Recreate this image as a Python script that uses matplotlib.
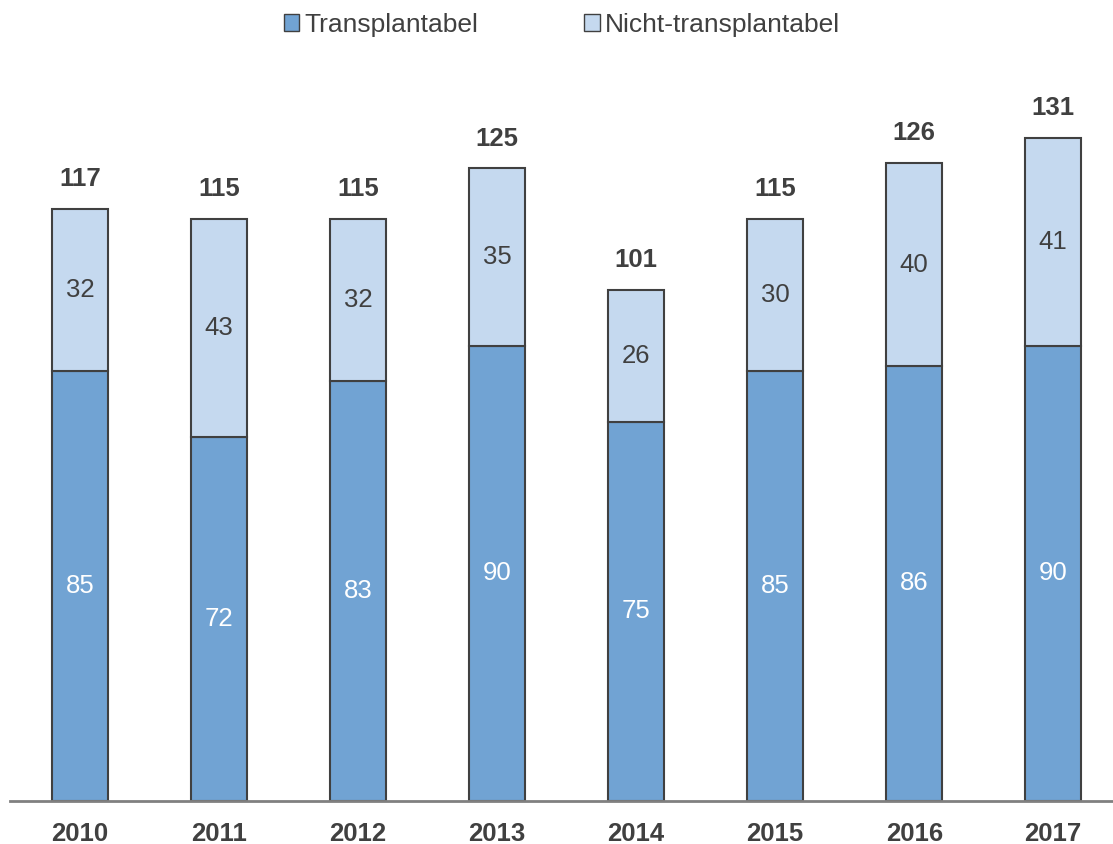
import matplotlib.pyplot as plt
from matplotlib.patches import Patch

plt.rcParams['font.family'] = ['Liberation Sans', 'DejaVu Sans']

years = ["2010", "2011", "2012", "2013", "2014", "2015", "2016", "2017"]
transplantabel = [85, 72, 83, 90, 75, 85, 86, 90]
nicht_transplantabel = [32, 43, 32, 35, 26, 30, 40, 41]
totals = [117, 115, 115, 125, 101, 115, 126, 131]

dark = "#71a3d3"
light = "#c5d9ef"
edge = "#404040"
txt = "#404040"
fs = 18.5

fig = plt.figure(figsize=(11.13, 8.44), dpi=100)
ax = fig.add_axes([10 / 1113, 1 - 801 / 844, 1103 / 1113, 741 / 844])

x = range(len(years))
ax.bar(x, transplantabel, width=0.4, color=dark, edgecolor=edge, linewidth=1.5)
ax.bar(x, nicht_transplantabel, width=0.4, bottom=transplantabel,
       color=light, edgecolor=edge, linewidth=1.5)

for i in x:
    ax.text(i, transplantabel[i] / 2, str(transplantabel[i]), ha="center",
            va="center", color="white", fontsize=fs)
    ax.text(i, transplantabel[i] + nicht_transplantabel[i] / 2,
            str(nicht_transplantabel[i]), ha="center", va="center",
            color=txt, fontsize=fs)
    ax.annotate(str(totals[i]), (i, totals[i]), xytext=(0, 30),
                textcoords="offset pixels", ha="center", va="center",
                color=txt, fontsize=fs, fontweight="bold")

ax.set_xlim(-0.504, 7.43)
ax.set_ylim(0, 741 / 5.06)
ax.set_xticks(list(x))
ax.set_xticklabels(years, fontsize=fs, fontweight="bold", color=txt)
ax.tick_params(axis="x", length=0, pad=15)
ax.set_yticks([])
for s in ["top", "left", "right"]:
    ax.spines[s].set_visible(False)
ax.spines["bottom"].set_color("#808080")
ax.spines["bottom"].set_linewidth(2)

handles = [Patch(facecolor=dark, edgecolor=edge, label="Transplantabel"),
           Patch(facecolor=light, edgecolor=edge, label="Nicht-transplantabel")]
fig.legend(handles=handles, loc="center", bbox_to_anchor=(562 / 1113, 1 - 25 / 844),
           ncol=2, frameon=False, fontsize=19, handlelength=0.6, handleheight=0.6,
           handletextpad=0.2, columnspacing=4.0, labelcolor=txt)

fig.savefig("out.png")
